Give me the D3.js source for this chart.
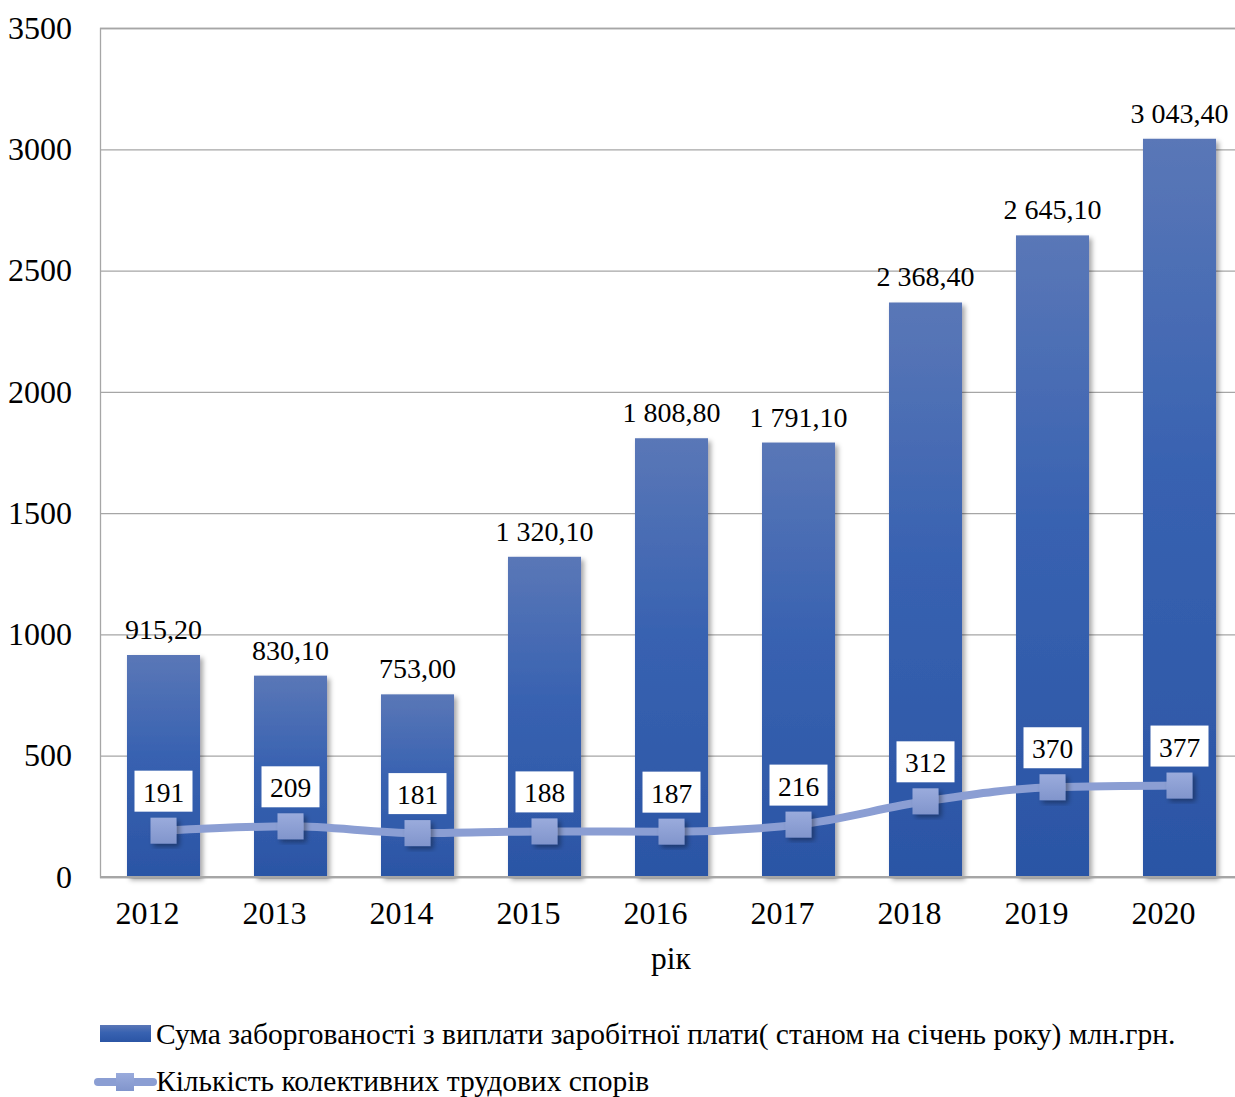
<!DOCTYPE html>
<html>
<head>
<meta charset="utf-8">
<script src="https://cdn.jsdelivr.net/npm/d3@7"></script>
<style>
  body { margin: 0; background: #fff; }
  text { font-family: "Liberation Serif", "Times New Roman", serif; fill: #000; }
</style>
</head>
<body>
<div class="svg_container"></div>
<script>
const WIDTH = 1235;
const HEIGHT = 1097;

// chart data
var years = ["2012", "2013", "2014", "2015", "2016", "2017", "2018", "2019", "2020"];
var debtValues = [915.2, 830.1, 753.0, 1320.1, 1808.8, 1791.1, 2368.4, 2645.1, 3043.4];
var disputeValues = [191, 209, 181, 188, 187, 216, 312, 370, 377];
var yTicks = [0, 500, 1000, 1500, 2000, 2500, 3000, 3500];
var debtName = "Сума заборгованості з виплати заробітної плати( станом на січень року) млн.грн.";
var disputeName = "Кількість колективних трудових спорів";
var xTitle = "рік";

var translate = function (x, y) {
  return "translate(" + x + "," + y + ")";
};

var _xScale = d3.scaleBand()
  .domain(years)
  .range([100, 1243])
  .paddingInner(0.425)
  .paddingOuter(0.2125);

var _yScale = d3.scaleLinear()
  .domain([0, 3500])
  .range([877, 28]);

var fmt = function (v) {
  var s = d3.format(",.2f")(v);
  return s.replace(/,/g, " ").replace(".", ",");
};

var svg = d3.select('.svg_container').append('svg')
  .attr('width', WIDTH)
  .attr('height', HEIGHT);

var defs = svg.append('defs');
var grad = defs.append('linearGradient')
  .attr('id', 'barGrad')
  .attr('x1', 0).attr('y1', 0).attr('x2', 0).attr('y2', 1);
grad.append('stop').attr('offset', '0%').attr('stop-color', '#5a77b7');
grad.append('stop').attr('offset', '45%').attr('stop-color', '#3862b1');
grad.append('stop').attr('offset', '100%').attr('stop-color', '#2b55a5');

var mGrad = defs.append('linearGradient')
  .attr('id', 'markGrad')
  .attr('x1', 0).attr('y1', 0).attr('x2', 0).attr('y2', 1);
mGrad.append('stop').attr('offset', '0%').attr('stop-color', '#9aabdc');
mGrad.append('stop').attr('offset', '100%').attr('stop-color', '#8195cc');

var shadow = defs.append('filter').attr('id', 'shadow')
  .attr('x', '-20%').attr('y', '-10%').attr('width', '150%').attr('height', '130%');
shadow.append('feDropShadow')
  .attr('dx', 3).attr('dy', 3).attr('stdDeviation', 2.5)
  .attr('flood-color', '#000').attr('flood-opacity', 0.35);

// grid lines + y labels
var yAxis = d3.axisLeft(_yScale)
  .tickValues(yTicks)
  .tickSize(-(1243 - 100))
  .tickPadding(28)
  .tickFormat(d3.format("d"));

var gy = svg.append('g')
  .attr('transform', translate(100, 0))
  .call(yAxis);
gy.select('.domain').attr('stroke', '#a6a6a6').attr('stroke-width', 1.3);
gy.selectAll('.tick line').attr('stroke', '#a6a6a6').attr('stroke-width', 1.3);
gy.selectAll('.tick text')
  .attr('font-size', 32)
  .attr('fill', '#000');

// bars
svg.append('g').selectAll('rect')
  .data(debtValues)
  .enter().append('rect')
  .attr('x', function (d, i) { return _xScale(years[i]); })
  .attr('y', function (d) { return _yScale(d); })
  .attr('width', _xScale.bandwidth())
  .attr('height', function (d) { return _yScale(0) - _yScale(d); })
  .attr('fill', 'url(#barGrad)')
  .attr('filter', 'url(#shadow)');

// x axis baseline
svg.append('line')
  .attr('x1', 100).attr('x2', 1243)
  .attr('y1', _yScale(0)).attr('y2', _yScale(0))
  .attr('stroke', '#a6a6a6').attr('stroke-width', 2);

// bar value labels
svg.append('g').selectAll('text')
  .data(debtValues)
  .enter().append('text')
  .attr('x', function (d, i) { return _xScale(years[i]) + _xScale.bandwidth() / 2; })
  .attr('y', function (d) { return _yScale(d) - 16; })
  .attr('text-anchor', 'middle')
  .attr('font-size', 28)
  .text(fmt);

// x tick labels (shifted left like the original)
svg.append('g')
  .attr('transform', translate(-16, 0))
  .selectAll('text')
  .data(years)
  .enter().append('text')
  .attr('x', function (d) { return _xScale(d) + _xScale.bandwidth() / 2; })
  .attr('y', 924)
  .attr('text-anchor', 'middle')
  .attr('font-size', 32)
  .text(function (d) { return d; });

svg.append('text')
  .attr('x', 671)
  .attr('y', 969)
  .attr('text-anchor', 'middle')
  .attr('font-size', 31.5)
  .text(xTitle);

// line series
var line = d3.line()
  .x(function (d, i) { return _xScale(years[i]) + _xScale.bandwidth() / 2; })
  .y(function (d) { return _yScale(d); })
  .curve(d3.curveMonotoneX);

svg.append('path')
  .attr('d', line(disputeValues))
  .attr('fill', 'none')
  .attr('stroke', '#8b9ed3')
  .attr('stroke-width', 8);

var ms = 26;
svg.append('g').selectAll('rect')
  .data(disputeValues)
  .enter().append('rect')
  .attr('x', function (d, i) { return _xScale(years[i]) + _xScale.bandwidth() / 2 - ms / 2; })
  .attr('y', function (d) { return _yScale(d) - ms / 2; })
  .attr('width', ms).attr('height', ms)
  .attr('fill', 'url(#markGrad)')
  .attr('filter', 'url(#shadow)');

// line value labels in white boxes
var lab = svg.append('g').selectAll('g')
  .data(disputeValues)
  .enter().append('g')
  .attr('transform', function (d, i) {
    return translate(_xScale(years[i]) + _xScale.bandwidth() / 2, _yScale(d) - 39);
  });
lab.append('rect')
  .attr('x', -29).attr('y', -21)
  .attr('width', 58).attr('height', 41)
  .attr('fill', '#fff');
lab.append('text')
  .attr('text-anchor', 'middle')
  .attr('y', 10)
  .attr('font-size', 27.5)
  .text(function (d) { return d; });

// legend
var leg = svg.append('g');
leg.append('rect')
  .attr('x', 100).attr('y', 1025)
  .attr('width', 51).attr('height', 17)
  .attr('fill', 'url(#barGrad)');
leg.append('text')
  .attr('x', 156).attr('y', 1044)
  .attr('font-size', 29.5)
  .text(debtName);

leg.append('line')
  .attr('x1', 98).attr('x2', 153)
  .attr('y1', 1082).attr('y2', 1082)
  .attr('stroke', '#8b9ed3').attr('stroke-width', 8)
  .attr('stroke-linecap', 'round');
leg.append('rect')
  .attr('x', 116).attr('y', 1073)
  .attr('width', 18).attr('height', 18)
  .attr('fill', 'url(#markGrad)');
leg.append('text')
  .attr('x', 156).attr('y', 1091)
  .attr('font-size', 29.5)
  .text(disputeName);
</script>
</body>
</html>
